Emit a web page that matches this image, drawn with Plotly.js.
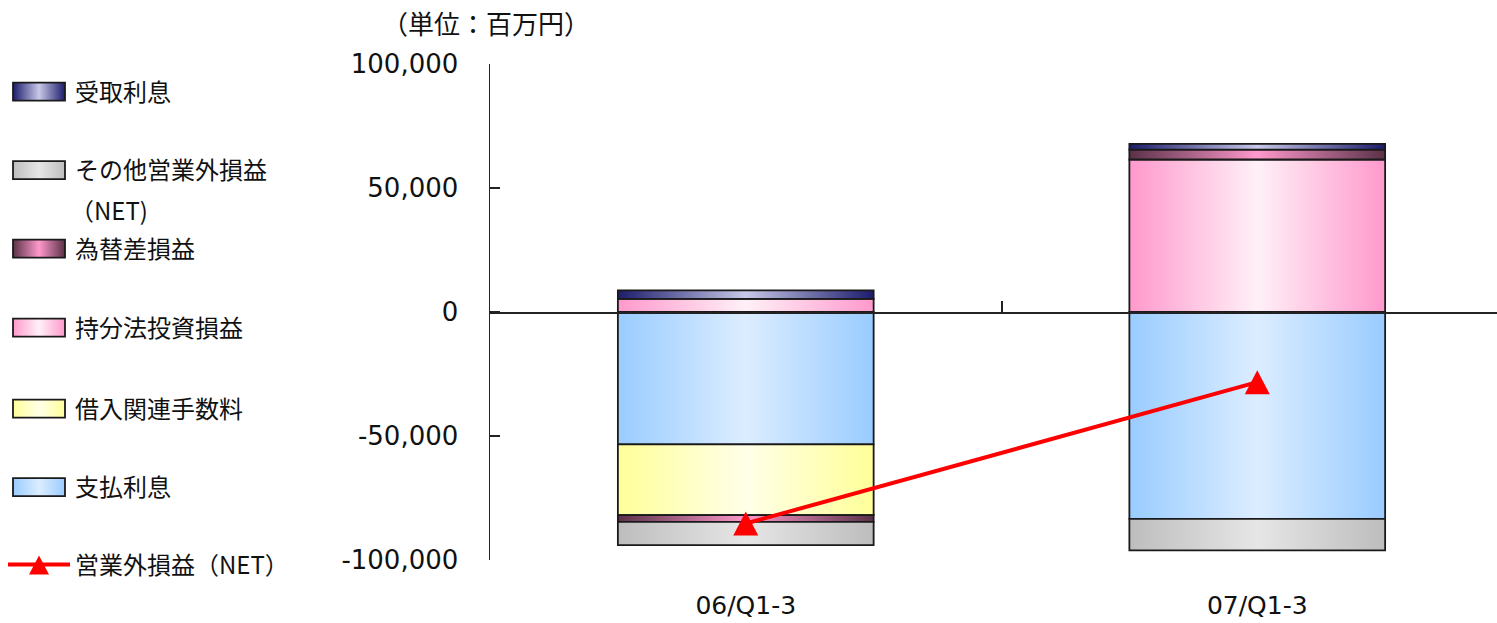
<!DOCTYPE html>
<html><head><meta charset="utf-8">
<script src="https://cdn.plot.ly/plotly-3.0.1.min.js"></script>
<style>html,body{margin:0;padding:0;background:#fff;} #chart{width:1497px;height:623px;}</style>
</head><body><div id="chart"></div>
<script>
// ---- data (百万円) ----
const categories = ['06/Q1-3', '07/Q1-3'];
const equityMethod = [5300, 61500];      // 持分法投資損益
const interestPaid = [-53400, -83400];   // 支払利息
const borrowingFees = [-28500, null];    // 借入関連手数料
const fxGainLoss = [-2700, 4000];        // 為替差損益
const otherNet = [-9400, -12700];        // その他営業外損益（NET)
const interestReceived = [3400, 2300];   // 受取利息
const nonOpNet = [-85300, -28300];       // 営業外損益（NET）
const yTickVals = [-100000, -50000, 0, 50000, 100000];
const yTickText = ['-100,000', '-50,000', '0', '50,000', '100,000'];

const latin = "'DejaVu Sans', 'Noto Sans CJK JP', sans-serif";
const cjk = "'Noto Sans CJK JP', 'DejaVu Sans', sans-serif";

// gradient styles: [edge, centre]
const grads = {
  equity: ['#ff99cc', '#fff0f7'],
  paid: ['#99ccff', '#dcedff'],
  fees: ['#ffff99', '#ffffe8'],
  fx: ['#5a3147', '#ff99cc'],
  other: ['#bdbdbd', '#e6e6e6'],
  recv: ['#1c1c6c', '#c8c8e8']
};
function mid(a, b) {
  const pa = [1,3,5].map(i => parseInt(a.substr(i,2),16)), pb = [1,3,5].map(i => parseInt(b.substr(i,2),16));
  return 'rgb(' + pa.map((v,i) => Math.round((v+pb[i])/2)).join(',') + ')';
}
const outline = {color: '#1a1a1a', width: 1.8};
function barTrace(name, y, key, legendId) {
  return {type: 'bar', name: name, x: categories, y: y, legend: legendId,
    marker: {color: mid(grads[key][0], grads[key][1]), line: outline}, _grad: key, hoverinfo: 'none'};
}
const data = [
  barTrace('持分法投資損益', equityMethod, 'equity', 'legend4'),
  barTrace('支払利息', interestPaid, 'paid', 'legend6'),
  barTrace('借入関連手数料', borrowingFees, 'fees', 'legend5'),
  barTrace('為替差損益', fxGainLoss, 'fx', 'legend3'),
  barTrace('その他営業外損益', otherNet, 'other', 'legend2'),
  barTrace('受取利息', interestReceived, 'recv', 'legend'),
  {type: 'scatter', mode: 'lines+markers', name: '営業外損益（NET）', x: categories, y: nonOpNet,
    legend: 'legend7', line: {color: '#ff0000', width: 4},
    marker: {symbol: 'triangle-up', size: 24, color: '#ff0000'}, hoverinfo: 'none'},
  {type: 'scatter', mode: 'markers', x: [0.5], y: [null], xaxis: 'x2', showlegend: false, hoverinfo: 'skip'}
];

function leg(yPx) {
  return {x: 3/1497, xref: 'container', xanchor: 'left', y: 1 - yPx/623, yref: 'container',
    yanchor: 'middle', bgcolor: 'rgba(0,0,0,0)', borderwidth: 0, itemwidth: 62,
    font: {family: cjk, size: 24, color: '#111'}};
}
const xr = [-0.5, 1.4687];
const layout = {
  width: 1497, height: 623,
  margin: {l: 490, r: 0, t: 64, b: 63},
  paper_bgcolor: '#ffffff', plot_bgcolor: 'rgba(0,0,0,0)',
  barmode: 'relative', bargap: 0.5,
  title: {text: '（単位：百万円）', x: 486/1497, xref: 'container', xanchor: 'center',
    y: 1 - 25/623, yref: 'container', yanchor: 'middle', font: {family: cjk, size: 26, color: '#111'}},
  xaxis: {type: 'category', range: xr, showline: false, ticks: 'outside', ticklen: 23,
    tickcolor: 'rgba(0,0,0,0)', tickfont: {family: latin, size: 25, color: '#111'},
    showgrid: false, zeroline: false},
  xaxis2: {overlaying: 'x', anchor: 'free', position: 0.5, type: 'linear', range: xr,
    showline: true, linecolor: '#222', linewidth: 1.5, ticks: 'inside', ticklen: 11, tickwidth: 2,
    tickcolor: '#222', tickvals: [0.5], showticklabels: false, showgrid: false, zeroline: false},
  yaxis: {range: [-100000, 100000], tickvals: yTickVals, ticktext: yTickText, showline: true,
    linecolor: '#222', linewidth: 1.5, ticks: 'inside', ticklen: 10, tickwidth: 1.5, tickcolor: '#222',
    tickfont: {family: latin, size: 26, color: '#111'}, ticklabelstandoff: 25,
    showgrid: false, zeroline: false},
  annotations: [{text: '（NET)', xref: 'paper', yref: 'paper', x: (68 - 490)/1007, y: (560 - 210)/496,
    xanchor: 'left', yanchor: 'middle', showarrow: false, font: {family: cjk, size: 24, color: '#111'}}],
  showlegend: true,
  legend: leg(92),
  legend2: leg(170.5),
  legend3: leg(249),
  legend4: leg(328),
  legend5: leg(409),
  legend6: leg(487.5),
  legend7: leg(565)
};

function decorate(gd) {
  const NS = 'http://www.w3.org/2000/svg';
  const svg = gd.querySelector('svg.main-svg');
  let defs = svg.querySelector('defs');
  if (!defs) { defs = document.createElementNS(NS, 'defs'); svg.insertBefore(defs, svg.firstChild); }
  Object.keys(grads).forEach(function (k) {
    if (document.getElementById('grad-' + k)) return;
    const lg = document.createElementNS(NS, 'linearGradient');
    lg.setAttribute('id', 'grad-' + k);
    lg.setAttribute('x1', '0'); lg.setAttribute('x2', '1'); lg.setAttribute('y1', '0'); lg.setAttribute('y2', '0');
    [[0, grads[k][0]], [0.5, grads[k][1]], [1, grads[k][0]]].forEach(function (s) {
      const st = document.createElementNS(NS, 'stop');
      st.setAttribute('offset', s[0]); st.setAttribute('stop-color', s[1]);
      lg.appendChild(st);
    });
    defs.appendChild(lg);
  });
  // bars
  gd.querySelectorAll('.barlayer .trace').forEach(function (t) {
    const cd = t.__data__; if (!cd || !cd[0]) return;
    const key = data[cd[0].trace.index]._grad; if (!key) return;
    t.querySelectorAll('path').forEach(function (p) { p.style.fill = 'url(#grad-' + key + ')'; });
  });
  // NET markers in the plot: near-equilateral triangle centred on the point
  gd.querySelectorAll('.scatterlayer .trace .points path').forEach(function (p) {
    p.setAttribute('d', 'M-12.5,12H12.5L0,-12Z');
  });
  // legend swatches
  gd.querySelectorAll('g.traces').forEach(function (tg) {
    const d = tg.__data__; if (!d) return;
    const item = Array.isArray(d) ? d[0] : d;
    if (!item || !item.trace) return;
    const tr = data[item.trace.index]; if (!tr) return;
    const pts = tg.querySelector('.legendpoints'); if (!pts) return;
    if (tr._grad) {
      pts.querySelectorAll('path').forEach(function (p) {
        p.setAttribute('d', 'M26,9H-26V-9H26Z');
        p.style.fill = 'url(#grad-' + tr._grad + ')';
        p.style.stroke = '#1a1a1a'; p.style.strokeWidth = '1.8px';
      });
    } else {
      pts.querySelectorAll('path.scatterpts').forEach(function (p) {
        p.setAttribute('d', 'M-10,10H10L0,-9Z');
      });
    }
  });
}

Plotly.newPlot('chart', data, layout, {staticPlot: true}).then(function (gd) {
  decorate(gd);
  gd.on('plotly_afterplot', function () { decorate(gd); });
  setTimeout(function () { decorate(gd); }, 200);
});
</script>
</body></html>
